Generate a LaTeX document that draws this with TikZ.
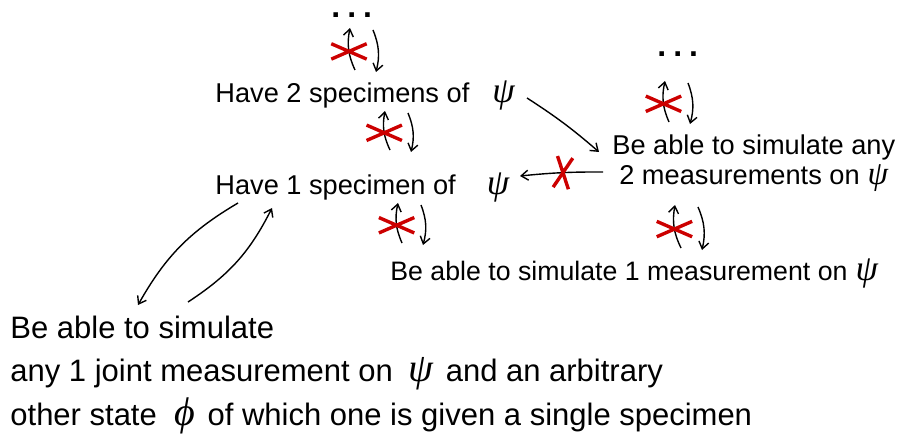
\documentclass[tikz,border=0pt]{standalone}
\usepackage{fontspec}
\setmainfont{Liberation Sans}
\newfontfamily\greekfont{Liberation Serif}
\usetikzlibrary{arrows.meta, calc, shapes.misc}
\definecolor{crossred}{RGB}{204,0,0}
\newcommand{\psisym}[1][18]{{\fontsize{#1}{#1}\greekfont\itshape ψ}}
\newcommand{\phisym}[1][18]{{\fontsize{#1}{#1}\greekfont\itshape ϕ}}

\begin{document}
\begin{tikzpicture}[
  x=0.5pt, y=-0.5pt,
  claim/.style={inner sep=0pt, anchor=base west, font=\fontsize{13.6}{15}\selectfont},
  bigclaim/.style={inner sep=0pt, anchor=base west, align=left, font=\fontsize{15.5}{21.75}\selectfont},
  etc/.style={inner sep=0pt, anchor=base west, text height=3pt, text depth=0pt,
              font=\fontsize{16}{16}\bfseries},
  arrow/.style={-{Straight Barb[length=3.5pt,width=5pt]}, line width=0.7pt},
  nope/.style={cross out, draw=crossred, line width=1.7pt, inner sep=0pt,
               minimum width=16pt, minimum height=6pt}
]
\useasboundingbox (0,0) rectangle (909,438);

\node[etc] (dotsL) at (331,18) {.\hspace{3.5pt}.\hspace{3.5pt}.};
\node[etc] (dotsR) at (657,57) {.\hspace{3.5pt}.\hspace{3.5pt}.};
\node[claim] (have2) at (215,103) {Have 2 specimens of\hspace{11.5pt}\psisym};
\node[claim] (have1) at (215,195) {Have 1 specimen of\hspace{15.5pt}\psisym};
\node[claim, align=center] (sim2) at (612,185) {Be able to simulate any\\2 measurements on\hspace{4pt}\psisym[16.5]};
\node[claim, font=\fontsize{13.35}{15}\selectfont] (sim1) at (390,280) {Be able to simulate 1 measurement on\hspace{4pt}\psisym};
\node[bigclaim] (joint) at (10,425) {Be able to simulate\\any 1 joint measurement on\hspace{8pt}\psisym[20]\hspace{6pt}and an arbitrary\\other state\hspace{9pt}\phisym[20]\hspace{6pt}of which one is given a single specimen};

% implications that hold one way only
\foreach \lo/\lx/\ly/\hi/\hx/\hy in {
  have2/140/-33/dotsL/19/10,
  have1/175/-45/have2/170/8,
  sim1/12/-37/have1/183/8,
  sim2/57/-63/dotsR/8/24,
  sim1/291/-32/sim2/63/20}
{
  \draw[arrow] ([shift={(\lx,\ly)}]\lo.base west) to[bend left=18]
    node[pos=.45, nope] {} ([shift={(\hx,\hy)}]\hi.base west);
  \draw[arrow] ([shift={({\hx+23},{\hy+2})}]\hi.base west) to[bend left=18]
    ([shift={({\lx+21},{\ly+2})}]\lo.base west);
}

\draw[arrow] ([shift={(312,-5)}]have2.base west) to[bend left=4] ([shift={(-13,-33)}]sim2.base west);
\draw[arrow] ([shift={(-9,-13)}]sim2.base west) to[bend right=3]
  node[pos=.48, nope, minimum width=6pt, minimum height=14pt, rotate=-8] {} ([shift={(305,-19)}]have1.base west);
\draw[arrow] ([shift={(23,8)}]have1.base west) to[bend right=15] ([shift={(128,-120)}]joint.base west);
\draw[arrow] ([shift={(178,-123)}]joint.base west) to[bend right=15] ([shift={(57,13)}]have1.base west);
\end{tikzpicture}
\end{document}
